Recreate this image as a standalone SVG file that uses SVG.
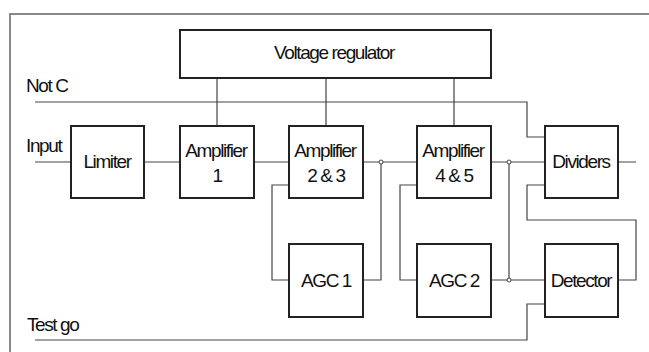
<svg xmlns="http://www.w3.org/2000/svg" width="649" height="352" viewBox="0 0 649 352">
<style>
.box{fill:#fff;stroke:#222;stroke-width:2}
.ln{fill:none;stroke:#444;stroke-width:1.2}
.dot{fill:#fff;stroke:#444;stroke-width:1}
text{font-family:"Liberation Sans",Arial,sans-serif;font-size:19px;letter-spacing:-1.4px;fill:#111}
.c{text-anchor:middle}
</style>
<rect x="0" y="0" width="649" height="352" fill="#fff"/>
<path d="M10,360 V14 H660" fill="none" stroke="#888" stroke-width="2"/>
<g id="connectors">
<path class="ln" d="M35,102 H527 V137 H545"/>
<path class="ln" d="M35,162 H71 M144,162 H180 M254,162 H289 M363,162 H417 M491,162 H545 M618,162 H636"/>
<path class="ln" d="M217,78 V126 M326,78 V126 M454,78 V126"/>
<path class="ln" d="M289,185 H272 V280 H289"/>
<path class="ln" d="M363,280 H381 V162"/>
<path class="ln" d="M417,185 H400 V280 H417"/>
<path class="ln" d="M491,280 H545 M509,162 V280"/>
<path class="ln" d="M545,185 H527 V220 H636 V280 H618"/>
<path class="ln" d="M545,304 H527 V340 H35"/>
<circle class="dot" cx="381" cy="162" r="2"/>
<circle class="dot" cx="509" cy="162" r="2"/>
<circle class="dot" cx="509" cy="280" r="2"/>
</g>
<g id="labels">
<text x="26" y="92">Not C</text>
<text x="26" y="152">Input</text>
<text x="27" y="331">Test go</text>
</g>
<g id="voltage-regulator"><rect class="box" x="180" y="30" width="311" height="48"/><text class="c" x="334" y="59">Voltage regulator</text></g>
<g id="limiter"><rect class="box" x="71" y="126" width="73" height="72"/><text class="c" x="107" y="168">Limiter</text></g>
<g id="amp1"><rect class="box" x="180" y="126" width="74" height="72"/><text class="c" x="216" y="157">Amplifier</text><text class="c" x="217" y="182">1</text></g>
<g id="amp23"><rect class="box" x="289" y="126" width="74" height="72"/><text class="c" x="325" y="157">Amplifier</text><text class="c" x="326" y="182">2 &amp; 3</text></g>
<g id="amp45"><rect class="box" x="417" y="126" width="74" height="72"/><text class="c" x="453" y="157">Amplifier</text><text class="c" x="454" y="182">4 &amp; 5</text></g>
<g id="dividers"><rect class="box" x="545" y="126" width="73" height="72"/><text class="c" x="581" y="168">Dividers</text></g>
<g id="agc1"><rect class="box" x="289" y="244" width="74" height="73"/><text class="c" x="326" y="287">AGC 1</text></g>
<g id="agc2"><rect class="box" x="417" y="244" width="74" height="73"/><text class="c" x="454" y="287">AGC 2</text></g>
<g id="detector"><rect class="box" x="545" y="244" width="73" height="73"/><text class="c" x="581" y="287">Detector</text></g>
</svg>
